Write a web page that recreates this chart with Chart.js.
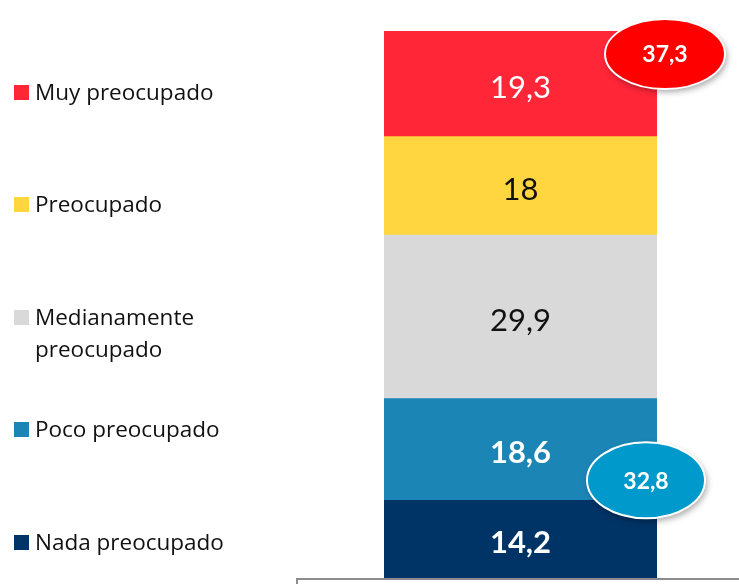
<!DOCTYPE html>
<html>
<head>
<meta charset="utf-8">
<script src="https://cdn.jsdelivr.net/npm/chart.js@4.4.1/dist/chart.umd.min.js"></script>
<style>
body{margin:0;background:#fff;overflow:hidden}
#wrap{position:relative;width:739px;height:584px}
#c{position:absolute;left:0;top:0}
.item{position:absolute;left:14px;font:22.5px "Open Sans",sans-serif;color:#111;line-height:32px}
.item span.sq{position:absolute;left:0;top:9px;width:15px;height:15px}
.item span.tx{position:absolute;left:21px;top:0;white-space:pre}
#box{position:absolute;left:296px;top:578px;width:460px;height:20px;border-top:2px solid #8c8c8c;border-left:2px solid #8c8c8c}
</style>
</head>
<body>
<div id="wrap">
<canvas id="c" width="739" height="584"></canvas>
<div id="legend"></div>
<div id="box"></div>
</div>
<script>
// bottom to top, as stacked
const categories = ["Nada preocupado","Poco preocupado","Medianamente\npreocupado","Preocupado","Muy preocupado"];
const values = [14.2, 18.6, 29.9, 18, 19.3];
const colors = ["#003366","#1b85b5","#d9d9d9","#ffd540","#ff2638"];
const labelColors = ["#fff","#fff","#111","#111","#fff"];
const labelBold = [true,true,false,false,false];

// grouped totals shown in bubbles
const bubbleValues = [37.3, 32.8];
const bubbleColors = ["#ff0000","#0099cc"];

// legend top positions (top to bottom order)
const legendTops = [76, 188, 301, 413, 526];

const fmt = v => String(v).replace(".", ",");

// html legend, top to bottom
const leg = document.getElementById("legend");
categories.slice().reverse().forEach((c,i)=>{
  const k = categories.length-1-i;
  const d = document.createElement("div");
  d.className = "item";
  d.style.top = legendTops[i]+"px";
  d.innerHTML = `<span class="sq" style="background:${colors[k]}"></span><span class="tx">${c}</span>`;
  leg.appendChild(d);
});

const labelPlugin = {
  id:"labels",
  afterDatasetsDraw(chart){
    const ctx = chart.ctx;
    ctx.save();
    ctx.textAlign="center";
    ctx.textBaseline="middle";
    chart.data.datasets.forEach((ds,i)=>{
      const bar = chart.getDatasetMeta(i).data[0];
      ctx.fillStyle = labelColors[i];
      ctx.font = (labelBold[i] ? "bold " : "") + "31px Lato, sans-serif";
      ctx.fillText(fmt(ds.data[0]), bar.x, (bar.y+bar.base)/2 + 4);
    });
    ctx.restore();
  },
  afterDraw(chart){
    const ctx = chart.ctx;
    const y = chart.scales.y;
    const bar = chart.getDatasetMeta(0).data[0];
    const right = bar.x + bar.width/2;
    const spots = [
      {x:right+8, y:y.getPixelForValue(100)+23, rx:60, ry:35},
      {x:right-11, y:y.getPixelForValue(values[0])-20, rx:59, ry:38}
    ];
    spots.forEach((s,i)=>{
      ctx.save();
      ctx.shadowColor="rgba(0,0,0,0.35)";
      ctx.shadowBlur=6;
      ctx.shadowOffsetX=2;
      ctx.shadowOffsetY=3;
      ctx.beginPath();
      ctx.ellipse(s.x, s.y, s.rx, s.ry, 0, 0, Math.PI*2);
      ctx.fillStyle=bubbleColors[i];
      ctx.fill();
      ctx.shadowColor="transparent";
      ctx.lineWidth=2;
      ctx.strokeStyle="#fff";
      ctx.stroke();
      ctx.fillStyle="#fff";
      ctx.font="bold 23px Lato, sans-serif";
      ctx.textAlign="center";
      ctx.textBaseline="middle";
      ctx.fillText(fmt(bubbleValues[i]), s.x, s.y+1);
      ctx.restore();
    });
  }
};

new Chart(document.getElementById("c"),{
  type:"bar",
  data:{
    labels:[""],
    datasets:categories.map((c,i)=>({
      label:c,
      data:[values[i]],
      backgroundColor:colors[i],
      borderWidth:0,
      barPercentage:1,
      categoryPercentage:1
    }))
  },
  options:{
    responsive:false,
    animation:false,
    layout:{padding:{left:384,right:82,top:31,bottom:6}},
    plugins:{legend:{display:false},tooltip:{enabled:false}},
    scales:{
      x:{stacked:true,display:false},
      y:{stacked:true,display:false,min:0,max:100}
    }
  },
  plugins:[labelPlugin]
});
</script>
</body>
</html>
